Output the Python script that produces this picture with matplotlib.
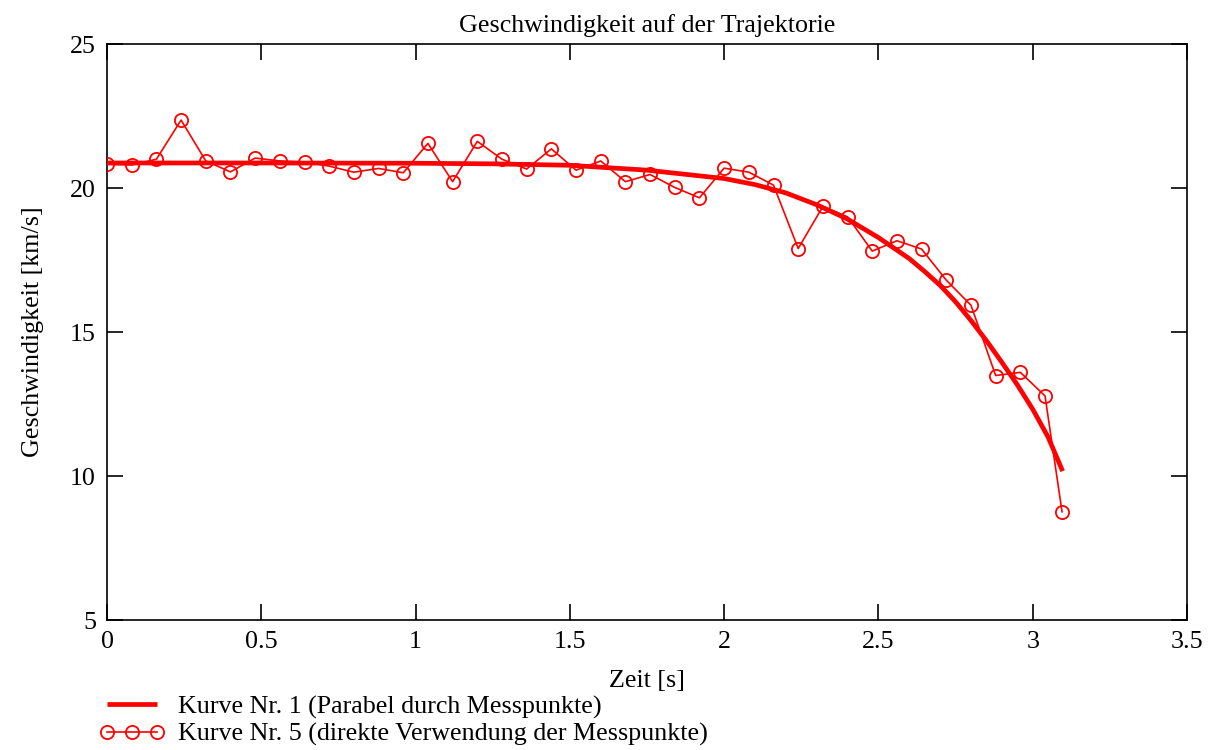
import matplotlib
matplotlib.use("Agg")
import matplotlib.pyplot as plt

plt.rcParams['font.family'] = ['Liberation Serif', 'DejaVu Serif']

# Measured points (Kurve Nr. 5)
t_mess = [0.00, 0.08, 0.16, 0.24, 0.32, 0.40, 0.48, 0.56, 0.64, 0.72,
          0.80, 0.88, 0.96, 1.04, 1.12, 1.20, 1.28, 1.36, 1.44, 1.52,
          1.60, 1.68, 1.76, 1.84, 1.92, 2.00, 2.08, 2.16, 2.24, 2.32,
          2.40, 2.48, 2.56, 2.64, 2.72, 2.80, 2.88, 2.96, 3.04, 3.095]
v_mess = [20.83, 20.80, 21.00, 22.36, 20.94, 20.56, 21.04, 20.94, 20.90, 20.76,
          20.55, 20.68, 20.53, 21.55, 20.22, 21.62, 21.00, 20.66, 21.36, 20.62,
          20.94, 20.22, 20.47, 20.02, 19.66, 20.69, 20.55, 20.10, 17.90, 19.36,
          19.00, 17.81, 18.17, 17.88, 16.80, 15.93, 13.49, 13.60, 12.78, 8.76]

# Fitted curve (Kurve Nr. 1)
t_kurve = [0.0, 0.5, 1.0, 1.25, 1.5, 1.75, 2.0, 2.1, 2.2, 2.3, 2.4, 2.5,
           2.6, 2.65, 2.7, 2.75, 2.8, 2.85, 2.9, 2.95, 3.0, 3.05, 3.097]
v_kurve = [20.87, 20.87, 20.86, 20.84, 20.79, 20.62, 20.33, 20.12, 19.83, 19.42,
           18.92, 18.28, 17.55, 17.10, 16.62, 16.05, 15.40, 14.70, 13.95, 13.17,
           12.32, 11.35, 10.17]

x_ticks = [0, 0.5, 1, 1.5, 2, 2.5, 3, 3.5]
x_labels = ['0', '0.5', '1', '1.5', '2', '2.5', '3', '3.5']
y_ticks = [5, 10, 15, 20, 25]
y_labels = ['5', '10', '15', '20', '25']

FS = 18.7

fig = plt.figure(figsize=(12.08, 7.5), dpi=100)
ax = fig.add_axes([0.0886, 0.1733, 0.894, 0.768])

ax.plot(t_kurve, v_kurve, color='#ff0000', lw=3.4, solid_capstyle='butt',
        solid_joinstyle='round',
        label='Kurve Nr. 1 (Parabel durch Messpunkte)', zorder=3)
ax.plot(t_mess, v_mess, color='#ff0000', lw=1.2, marker='o', ms=9.5,
        mfc='none', mec='#ff0000', mew=1.3,
        label='Kurve Nr. 5 (direkte Verwendung der Messpunkte)', zorder=4)

ax.set_xlim(0, 3.5)
ax.set_ylim(5, 25)
ax.set_xticks(x_ticks)
ax.set_xticklabels(x_labels)
ax.set_yticks(y_ticks)
ax.set_yticklabels(y_labels)
ax.tick_params(direction='in', length=11.5, width=1.2, top=True, right=True,
               labelsize=FS, colors='black', pad=8)
for s in ax.spines.values():
    s.set_linewidth(1.2)
    s.set_color('black')

ax.set_title('Geschwindigkeit auf der Trajektorie', fontsize=FS, pad=9)
ax.set_xlabel('Zeit [s]', fontsize=FS, labelpad=12)
ax.set_ylabel('Geschwindigkeit [km/s]', fontsize=FS, labelpad=19)

fig.legend(loc='upper left', bbox_to_anchor=(0.0735, 0.087), frameon=False,
           fontsize=FS, handlelength=2.52, numpoints=3, borderaxespad=0,
           labelspacing=0.15, handletextpad=0.51)

fig.savefig('out.png', dpi=100)
